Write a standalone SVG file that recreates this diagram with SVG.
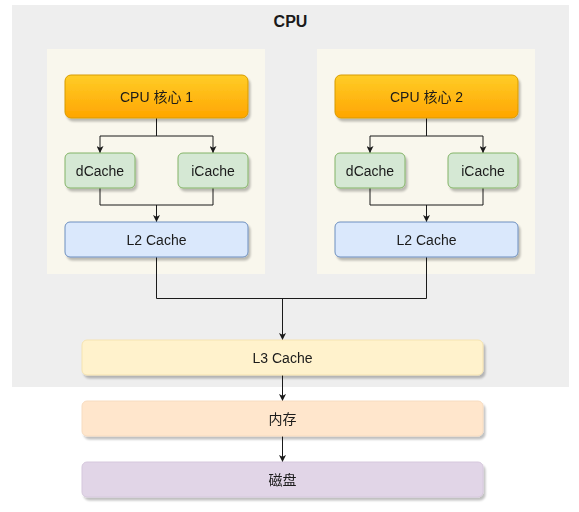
<svg xmlns="http://www.w3.org/2000/svg" width="579" height="512" viewBox="0 0 579 512">
<defs>
<style>
text{font-family:"Liberation Sans",Arial,"Noto Sans CJK SC",sans-serif;font-size:14px;fill:#1a1a1a;text-anchor:middle;dominant-baseline:central}
.core{fill:url(#gOr);stroke:#d79b00;stroke-width:1}
.l1{fill:#d5e8d4;stroke:#82b366;stroke-width:1}
.l2{fill:#dae8fc;stroke:#6c8ebf;stroke-width:1}
.l3{fill:#fff2cc;stroke:#f5e3b0;stroke-width:1}
.mem{fill:#ffe6cc;stroke:#f7dcc0;stroke-width:1}
.disk{fill:#e1d5e7;stroke:#d6c8dd;stroke-width:1}
.sh{filter:url(#shadow)}
.edge{fill:none;stroke:#1a1a1a;stroke-width:1;marker-end:url(#arr)}
.line{fill:none;stroke:#1a1a1a;stroke-width:1}
</style>
<linearGradient id="gOr" x1="0" y1="0" x2="0" y2="1">
<stop offset="0" stop-color="#ffcd28"/>
<stop offset="1" stop-color="#ffa500"/>
</linearGradient>
<filter id="shadow" x="-10%" y="-20%" width="130%" height="160%">
<feGaussianBlur in="SourceAlpha" stdDeviation="1"/>
<feOffset dx="2" dy="3" result="b"/>
<feComponentTransfer><feFuncA type="linear" slope="0.25"/></feComponentTransfer>
<feMerge><feMergeNode/><feMergeNode in="SourceGraphic"/></feMerge>
</filter>
<marker id="arr" viewBox="0 0 10 10" refX="10" refY="5" markerWidth="7" markerHeight="7" markerUnits="userSpaceOnUse" orient="auto">
<path d="M0,0 L10,5 L0,10 L2.5,5 Z" fill="#1a1a1a"/>
</marker>
</defs>

<g id="cpu">
<rect x="12" y="5" width="557" height="382" fill="#eeeeee"/>
<text x="290.5" y="21" style="font-weight:bold;font-size:16px">CPU</text>
</g>
<g id="panel1"><rect x="47" y="49" width="218" height="225" fill="#f9f7ed"/></g>
<g id="panel2"><rect x="317" y="49" width="218" height="225" fill="#f9f7ed"/></g>

<g id="connectors">
<path class="edge" d="M156.5,118 V136 H100 V153"/>
<path class="edge" d="M156.5,136 H213 V153"/>
<path class="line" d="M100,188 V205 H213 V188"/>
<path class="edge" d="M156.5,205 V222"/>
<path class="edge" d="M426.5,118 V136 H370 V153"/>
<path class="edge" d="M426.5,136 H483 V153"/>
<path class="line" d="M370,188 V205 H483 V188"/>
<path class="edge" d="M426.5,205 V222"/>
<path class="line" d="M156.5,257 V298.5 H426.5 V257"/>
<path class="edge" d="M282.5,298.5 V340"/>
<path class="edge" d="M282.5,375 V401"/>
<path class="edge" d="M282.5,436 V462"/>
</g>

<g id="core1" class="sh"><rect class="core" x="65" y="75" width="183" height="43" rx="6"/><text x="156.5" y="96.5">CPU 核心 1</text></g>
<g id="dcache1" class="sh"><rect class="l1" x="65" y="153" width="70" height="35" rx="5"/><text x="100" y="170.5">dCache</text></g>
<g id="icache1" class="sh"><rect class="l1" x="178" y="153" width="70" height="35" rx="5"/><text x="213" y="170.5">iCache</text></g>
<g id="l2a" class="sh"><rect class="l2" x="65" y="222" width="183" height="35" rx="5"/><text x="156.5" y="239.5">L2 Cache</text></g>

<g id="core2" class="sh"><rect class="core" x="335" y="75" width="183" height="43" rx="6"/><text x="426.5" y="96.5">CPU 核心 2</text></g>
<g id="dcache2" class="sh"><rect class="l1" x="335" y="153" width="70" height="35" rx="5"/><text x="370" y="170.5">dCache</text></g>
<g id="icache2" class="sh"><rect class="l1" x="448" y="153" width="70" height="35" rx="5"/><text x="483" y="170.5">iCache</text></g>
<g id="l2b" class="sh"><rect class="l2" x="335" y="222" width="183" height="35" rx="5"/><text x="426.5" y="239.5">L2 Cache</text></g>

<g id="l3" class="sh"><rect class="l3" x="82" y="340" width="401" height="35" rx="5"/><text x="282.5" y="357.5">L3 Cache</text></g>
<g id="memory" class="sh"><rect class="mem" x="82" y="401" width="401" height="35" rx="5"/><text x="282.5" y="418.5">内存</text></g>
<g id="disk" class="sh"><rect class="disk" x="82" y="462" width="401" height="35" rx="5"/><text x="282.5" y="479.5">磁盘</text></g>
</svg>
